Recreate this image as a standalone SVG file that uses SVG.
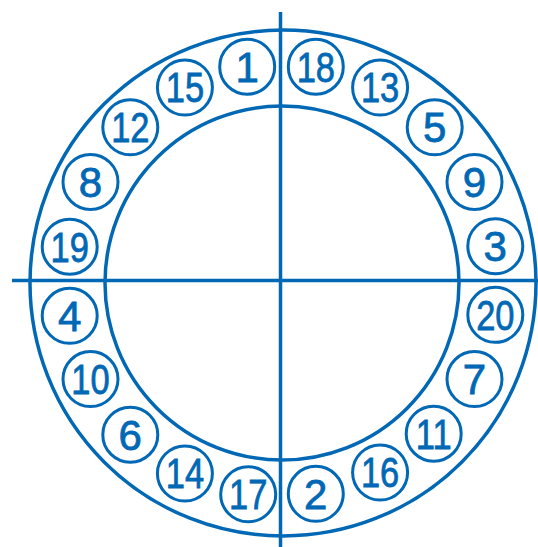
<svg xmlns="http://www.w3.org/2000/svg" width="538" height="547" viewBox="0 0 538 547">
<style>
.ln{stroke:#0068b5;stroke-width:3.5;fill:none}
.nd circle{stroke:#0068b5;stroke-width:3;fill:none}
.nd text{font-family:"Liberation Sans",Arial,sans-serif;font-size:42px;fill:#0068b5;stroke:#0068b5;stroke-width:0.8;text-anchor:middle}
</style>
<rect width="538" height="547" fill="#ffffff"/>
<g id="rings">
<circle class="ln" cx="283" cy="283" r="253"/>
<circle class="ln" cx="282" cy="283" r="177"/>
</g>
<g id="connectors">
<line class="ln" x1="12" y1="280.5" x2="538" y2="280.5"/>
<line class="ln" x1="280.5" y1="12" x2="280.5" y2="547"/>
</g>
<g id="n18" class="nd"><circle cx="315.8" cy="66.7" r="27.5"/><text x="315.8" y="81.7" transform="translate(315.8 0) scale(0.82 1) translate(-315.8 0)">18</text></g>
<g id="n13" class="nd"><circle cx="380.1" cy="87.5" r="27.5"/><text x="380.1" y="102.5" transform="translate(380.1 0) scale(0.82 1) translate(-380.1 0)">13</text></g>
<g id="n5" class="nd"><circle cx="434.7" cy="127.3" r="27.5"/><text x="434.7" y="142.3">5</text></g>
<g id="n9" class="nd"><circle cx="474.5" cy="181.9" r="27.5"/><text x="474.5" y="196.9">9</text></g>
<g id="n3" class="nd"><circle cx="495.3" cy="246.2" r="27.5"/><text x="495.3" y="261.2">3</text></g>
<g id="n20" class="nd"><circle cx="495.3" cy="314.8" r="27.5"/><text x="495.3" y="329.8" transform="translate(495.3 0) scale(0.82 1) translate(-495.3 0)">20</text></g>
<g id="n7" class="nd"><circle cx="474.5" cy="379.1" r="27.5"/><text x="474.5" y="394.1">7</text></g>
<g id="n11" class="nd"><circle cx="433.7" cy="433.7" r="27.5"/><text x="433.7" y="448.7" transform="translate(433.7 0) scale(0.82 1) translate(-433.7 0)">11</text></g>
<g id="n16" class="nd"><circle cx="380.1" cy="472.5" r="27.5"/><text x="380.1" y="487.5" transform="translate(380.1 0) scale(0.82 1) translate(-380.1 0)">16</text></g>
<g id="n2" class="nd"><circle cx="315.8" cy="493.8" r="27.5"/><text x="315.8" y="508.8">2</text></g>
<g id="n17" class="nd"><circle cx="248.2" cy="494.3" r="27.5"/><text x="248.2" y="509.3" transform="translate(248.2 0) scale(0.82 1) translate(-248.2 0)">17</text></g>
<g id="n14" class="nd"><circle cx="184.9" cy="473.5" r="27.5"/><text x="184.9" y="488.5" transform="translate(184.9 0) scale(0.82 1) translate(-184.9 0)">14</text></g>
<g id="n6" class="nd"><circle cx="130.3" cy="434.7" r="27.5"/><text x="130.3" y="449.7">6</text></g>
<g id="n10" class="nd"><circle cx="90.5" cy="379.1" r="27.5"/><text x="90.5" y="394.1" transform="translate(90.5 0) scale(0.82 1) translate(-90.5 0)">10</text></g>
<g id="n4" class="nd"><circle cx="69.7" cy="315.8" r="27.5"/><text x="69.7" y="330.8">4</text></g>
<g id="n19" class="nd"><circle cx="69.7" cy="246.7" r="27.5"/><text x="69.7" y="261.7" transform="translate(69.7 0) scale(0.82 1) translate(-69.7 0)">19</text></g>
<g id="n8" class="nd"><circle cx="90.5" cy="181.9" r="27.5"/><text x="90.5" y="196.9">8</text></g>
<g id="n12" class="nd"><circle cx="130.3" cy="127.3" r="27.5"/><text x="130.3" y="142.3" transform="translate(130.3 0) scale(0.82 1) translate(-130.3 0)">12</text></g>
<g id="n15" class="nd"><circle cx="184.9" cy="87.5" r="27.5"/><text x="184.9" y="102.5" transform="translate(184.9 0) scale(0.82 1) translate(-184.9 0)">15</text></g>
<g id="n1" class="nd"><circle cx="247.2" cy="66.7" r="27.5"/><text x="247.2" y="81.7">1</text></g>
</svg>
